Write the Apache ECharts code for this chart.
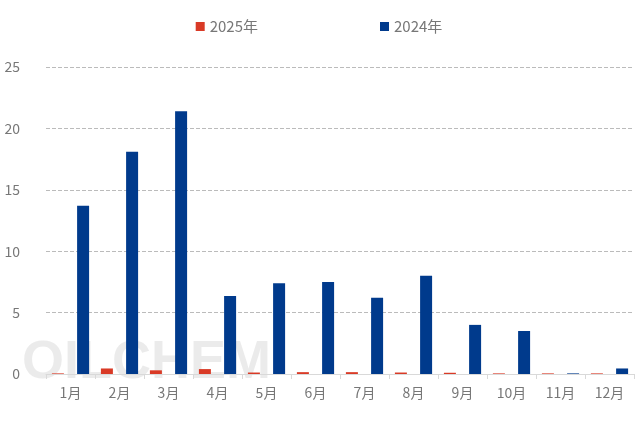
<!DOCTYPE html><html><head><meta charset="utf-8"><script src="https://cdn.jsdelivr.net/npm/echarts@6/dist/echarts.min.js"></script></head><body style="margin:0"><div id="c" style="width:638px;height:426px"></div><script>
const categories=['1月','2月','3月','4月','5月','6月','7月','8月','9月','10月','11月','12月'];
const s2025=[0.05,0.45,0.3,0.4,0.12,0.15,0.15,0.12,0.1,0.05,0.05,0.05];
const s2024=[13.7,18.1,21.4,6.35,7.4,7.5,6.2,8.0,4.0,3.5,0.05,0.45];
const yTicks=[0,5,10,15,20,25];
const c=echarts.init(document.getElementById('c'));
c.setOption({
 textStyle:{fontFamily:'Noto Sans CJK SC'},
 legend:{top:14,left:'center',itemGap:122,itemWidth:9,itemHeight:9,icon:'rect',textStyle:{color:'#777',fontSize:15}},
 graphic:[{type:'text',left:22,top:336,z:-1,style:{text:'OILCHEM',fill:'rgba(210,210,210,0.45)',font:'bold 54px sans-serif'}}],
 grid:{left:46,right:4,top:67,bottom:52},
 xAxis:{type:'category',data:categories,axisLine:{lineStyle:{color:'#d9d9d9'}},axisTick:{show:true,lineStyle:{color:'#d9d9d9'}},axisLabel:{color:'#777',fontSize:14,margin:12}},
 yAxis:{type:'value',min:yTicks[0],max:yTicks[yTicks.length-1],interval:5,axisLabel:{color:'#777',fontSize:14,margin:26},splitLine:{lineStyle:{type:'dashed',color:'#bbb'}}},
 series:[
  {name:'2025年',type:'bar',data:s2025,barWidth:12,barGap:'110%',itemStyle:{color:'#d93a26'}},
  {name:'2024年',type:'bar',data:s2024,barWidth:12,itemStyle:{color:'#003a8c'}}
 ]});
</script></body></html>
